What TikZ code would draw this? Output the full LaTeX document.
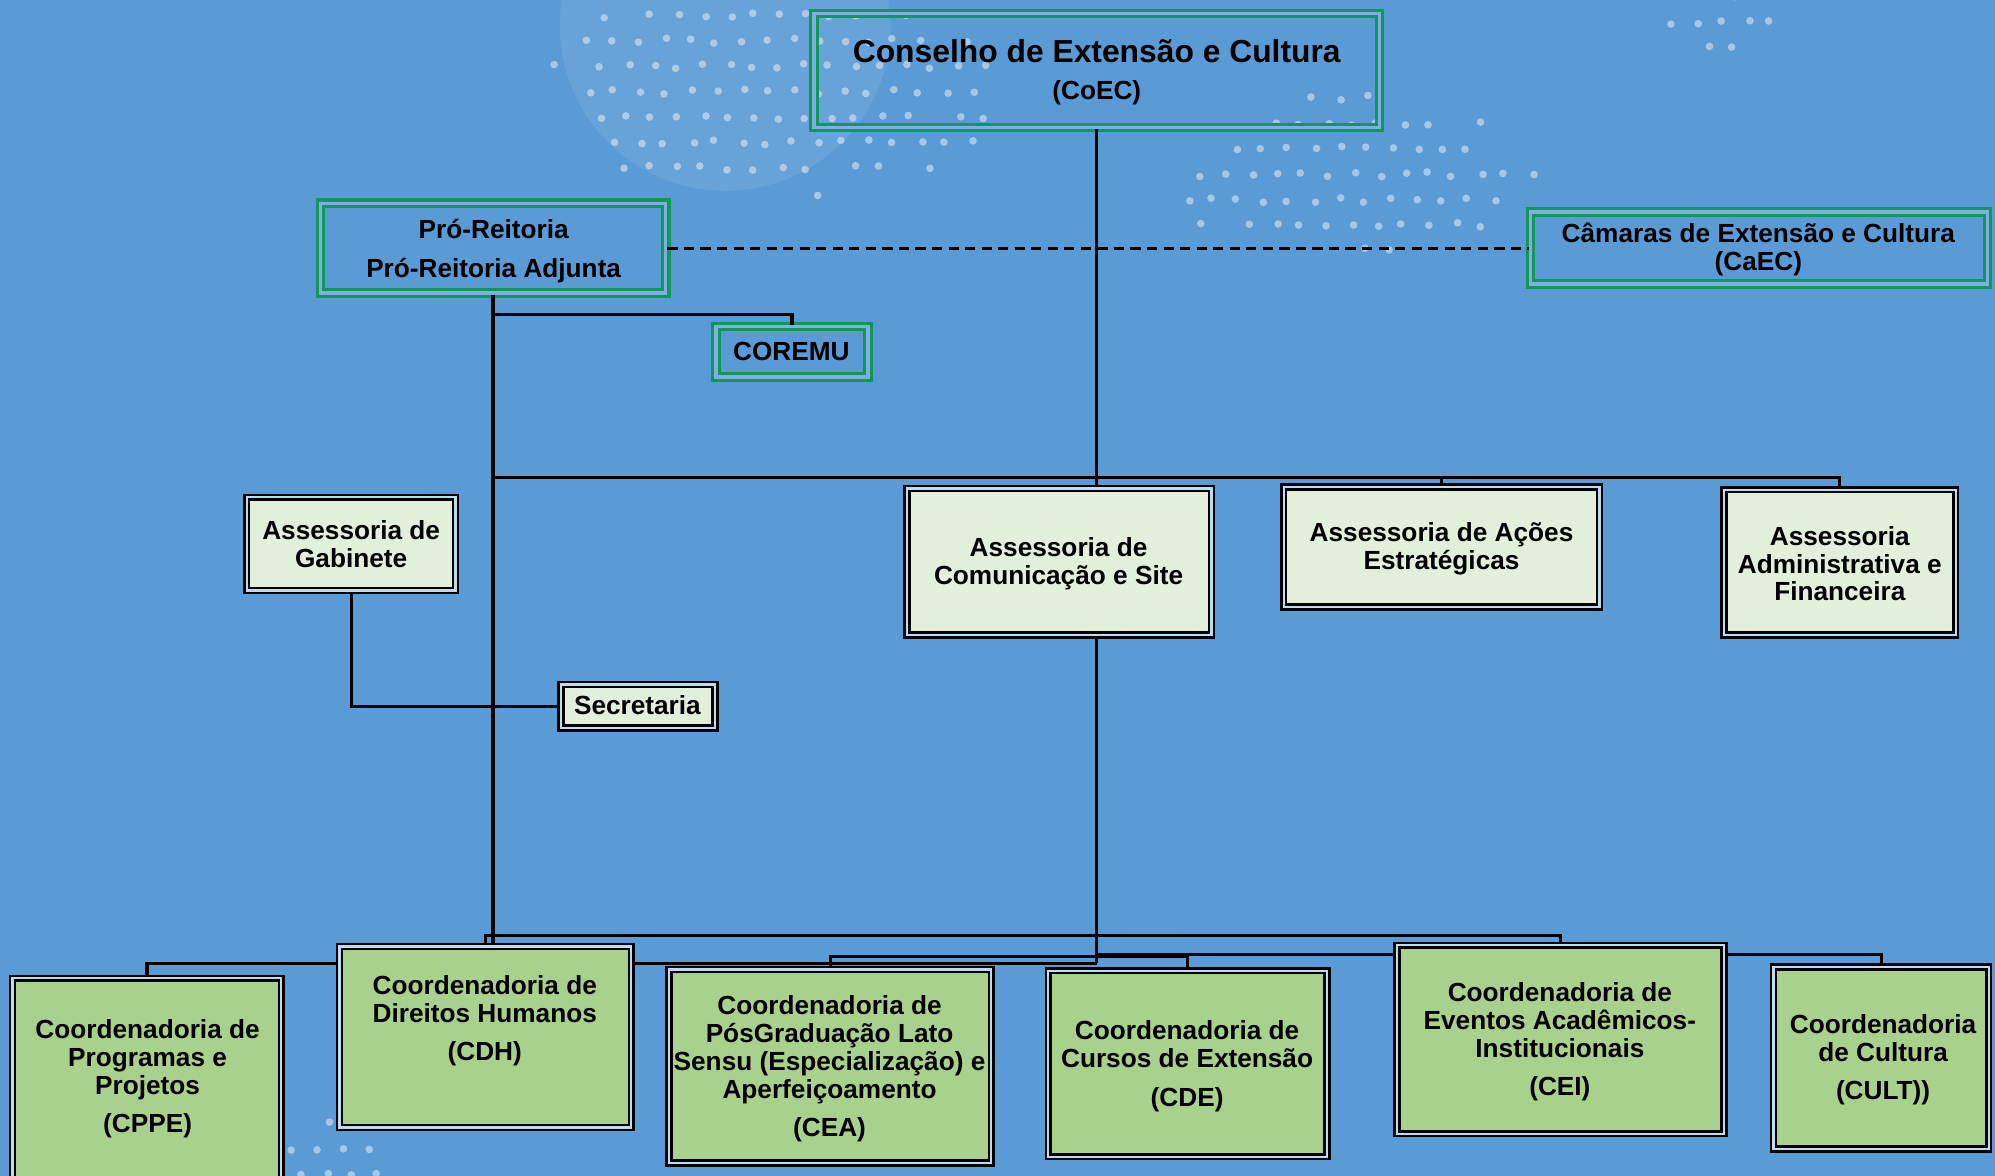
\documentclass[tikz,border=0pt]{standalone}
\usepackage{fontspec}
\setmainfont{Liberation Sans}
\definecolor{bgblue}{RGB}{91,155,213}
\definecolor{lineGreen}{RGB}{19,150,90}
\definecolor{gapBlue}{RGB}{125,175,225}
\definecolor{gapLight}{RGB}{190,220,240}
\definecolor{paleGreen}{RGB}{226,239,218}
\definecolor{midGreen}{RGB}{169,209,142}
\pgfmathsetseed{7}
\newcommand\dotfield[4]{%
  \pgfmathtruncatemacro\nx{#3/20}%
  \pgfmathtruncatemacro\ny{#4/20}%
  \foreach \gx in {-\nx,...,\nx}{%
    \foreach \gy in {-\ny,...,\ny}{%
      \pgfmathsetmacro\px{#1+\gx*20+10*mod(abs(\gy),2)+6*rnd}%
      \pgfmathsetmacro\py{#2+\gy*20+4*rnd}%
      \pgfmathsetmacro\dd{((\px-#1)/#3)^2+((\py-#2)/#4)^2+0.55*rnd}%
      \ifdim\dd pt<1pt \fill[white,opacity=0.45] (\px,\py) circle[radius=1.5pt];\fi
    }}}
\begin{document}
\begin{tikzpicture}[x=0.5pt,y=-0.5pt,
  gbox/.style={draw=lineGreen, line width=1.2pt, double=gapBlue, double distance=1.3pt, inner sep=0pt},
  kbox/.style={draw=black, line width=1pt, double=gapLight, double distance=0.9pt, inner sep=0pt},
  pale/.style={kbox, fill=paleGreen},
  mid/.style={kbox, fill=midGreen},
  txt/.style={font=\bfseries\fontsize{10.3}{11}\selectfont, align=center, inner sep=0pt, text=black},
  conn/.style={draw=black, line width=1.25pt}]
\useasboundingbox (0,0) rectangle (1568,924);
\fill[bgblue] (0,0) rectangle (1568,924);
% decorative dots
\fill[white,opacity=0.08] (570,20) circle[radius=65pt];
\dotfield{600}{70}{200}{95}
\dotfield{1060}{135}{150}{70}
\dotfield{1350}{15}{55}{30}
\dotfield{265}{900}{45}{45}
% unfilled green boxes
\node[gbox, minimum width=222.3pt, minimum height=44.8pt] (coec) at (862,55.5) {};
\node[gbox, minimum width=135.8pt, minimum height=35.3pt] (pro) at (387.5,195) {};
\node[gbox, minimum width=179.8pt, minimum height=28.3pt] (caec) at (1382.5,195) {};
\node[gbox, minimum width=59.8pt, minimum height=19.8pt] (coremu) at (622.5,276.5) {};
% bus coordinates
\coordinate (busA) at (388,375);
\coordinate (coremuBranch) at (388,247);
\coordinate (bA) at (381,735);
\coordinate (vbot) at (862,757);
\coordinate (bB) at (862,750);
\coordinate (bC) at (652,752);
% filled boxes
\node[pale, minimum width=82.1pt, minimum height=36.6pt] (gab) at (276,427.5) {};
\node[pale, minimum width=60.6pt, minimum height=17.1pt] (sec) at (501.5,555) {};
\node[pale, minimum width=119.6pt, minimum height=57.6pt] (com) at (832.5,441.5) {};
\node[pale, minimum width=124.1pt, minimum height=47.1pt] (acoes) at (1133,430) {};
\node[pale, minimum width=91.1pt, minimum height=57.1pt] (adm) at (1446,442) {};
\node[mid, minimum width=105.6pt, minimum height=84.1pt] (cppe) at (115.5,853) {};
\node[mid, minimum width=113.6pt, minimum height=70.1pt] (cdh) at (381.5,815) {};
\node[mid, minimum width=125.6pt, minimum height=75.1pt] (cea) at (652.5,838) {};
\node[mid, minimum width=108.6pt, minimum height=72.1pt] (cde) at (933.5,836) {};
\node[mid, minimum width=127.6pt, minimum height=73.1pt] (cei) at (1226.5,817) {};
\node[mid, minimum width=84.6pt, minimum height=71.6pt] (cult) at (1478.5,831.5) {};
% connectors
\draw[conn] (coec.south) -- (coec.south |- com.north);
\draw[conn] (pro.south) -- (pro.south |- cdh.north);
\draw[conn] (coremuBranch) -| (coremu.north);
\draw[conn] (busA) -- (adm.north |- busA) -- (adm.north);
\draw[conn] (acoes.north |- busA) -- (acoes.north);
\draw[conn] (gab.south) |- (sec.west);
\draw[conn] (coec.south |- com.south) -- (vbot);
\draw[conn] (cdh.north) -- (cdh.north |- bA) -- (cei.north |- bA) -- (cei.north);
\draw[conn] (cppe.north) -- (cppe.north |- vbot) -- (vbot);
\draw[conn] (bB) -| (cult.north);
\draw[conn] (cea.north) -- (cea.north |- bC) -| (cde.north);
\draw[conn, line width=1.2pt, dash pattern=on 4pt off 2.5pt] (pro.east) -- (caec.west);
% boxes repainted over the buses that pass behind them
\foreach \n in {cdh,cea,cde,cei}{
  \path[mid] (\n.south west) rectangle (\n.north east);}
% texts
\node[txt, font=\bfseries\fontsize{12.5}{14}\selectfont] (coecT1) at (862,40) {Conselho de Extensão e Cultura};
\node[txt] (coecT2) at (862,73) {(CoEC)};
\node[txt] (proT) at (388,197.5) {Pró-Reitoria\\[4.5pt]Pró-Reitoria Adjunta};
\node[txt] (caecT) at (1382,196) {Câmaras de Extensão e Cultura\\(CaEC)};
\node[txt] (coremuT) at (622,276) {COREMU};
\node[txt] (gabT) at (276,428) {Assessoria de\\Gabinete};
\node[txt] (secT) at (501,554) {Secretaria};
\node[txt] (comT) at (832,443) {Assessoria de\\Comunicação e Site};
\node[txt] (acoesT) at (1133,431) {Assessoria de Ações\\Estratégicas};
\node[txt] (admT) at (1446,443) {Assessoria\\Administrativa e\\Financeira};
\node[txt] (cppeT) at (116,848) {Coordenadoria de\\Programas e\\Projetos\\[4pt](CPPE)};
\node[txt] (cdhT) at (381,802.5) {Coordenadoria de\\Direitos Humanos\\[4pt](CDH)};
\node[txt] (ceaT) at (652,840) {Coordenadoria de\\PósGraduação Lato\\Sensu (Especialização) e\\Aperfeiçoamento\\[4pt](CEA)};
\node[txt] (cdeT) at (933,838) {Coordenadoria de\\Cursos de Extensão\\[4pt](CDE)};
\node[txt] (ceiT) at (1226,819) {Coordenadoria de\\Eventos Acadêmicos-\\Institucionais\\[4pt](CEI)};
\node[txt] (cultT) at (1480,833) {Coordenadoria\\de Cultura\\[4pt](CULT))};
\end{tikzpicture}
\end{document}
